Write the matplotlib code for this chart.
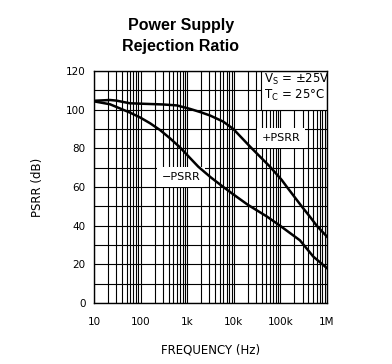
import matplotlib
matplotlib.use("Agg")
from matplotlib import pyplot as plt
from matplotlib.ticker import FixedLocator, NullFormatter
from matplotlib.patches import Rectangle
import numpy as np

# values (Hz, dB)
pos_freq = [10, 22, 30, 59, 130, 300, 600, 1150, 1884, 3080, 5960, 9770,
            22300, 59800, 107000, 136000, 286000, 431000, 601000, 1000000]
pos_psrr = [104.6, 105.0, 104.7, 103.3, 103.0, 102.7, 102.2, 100.4, 98.8, 97.0,
            93.8, 90.0, 80.9, 70.5, 63.6, 60.2, 50.0, 44.6, 40.0, 34.3]

neg_freq = [10, 22, 59, 97, 159, 260, 427, 700, 1150, 1730, 3200, 5960, 10000,
            20000, 50800, 98000, 263000, 508000, 1000000]
neg_psrr = [104.3, 102.8, 98.5, 96.0, 93.0, 89.5, 85.2, 80.5, 75.0, 70.5, 65.0,
            60.0, 56.0, 50.8, 44.8, 40.0, 32.4, 24.0, 18.0]

xticks = [10, 100, 1e3, 1e4, 1e5, 1e6]
xtick_labels = ['10', '100', '1k', '10k', '100k', '1M']
yticks = [0, 20, 40, 60, 80, 100, 120]

plt.rcParams['font.family'] = 'DejaVu Sans'

fig = plt.figure(figsize=(3.92, 3.64), dpi=100)
ax = fig.add_axes([94/392, 61/364, 233/392, 232/364])

ax.plot(pos_freq, pos_psrr, color='k', linewidth=1.8, zorder=6)
ax.plot(neg_freq, neg_psrr, color='k', linewidth=1.8, zorder=6)

ax.set_xscale('log')
ax.set_xlim(10, 1e6)
ax.set_ylim(0, 120)

ax.xaxis.set_major_locator(FixedLocator(xticks))
ax.xaxis.set_minor_locator(FixedLocator(
    [m * 10**d for d in range(1, 6) for m in range(2, 10)]))
ax.xaxis.set_minor_formatter(NullFormatter())
ax.set_xticklabels(xtick_labels)
ax.set_yticks(yticks)
ax.yaxis.set_minor_locator(FixedLocator(range(10, 120, 20)))

ax.grid(which='both', color='k', linewidth=0.8)
ax.tick_params(which='both', length=0, labelsize=7.5)
ax.tick_params(axis='x', pad=10)
ax.tick_params(axis='y', pad=6)
for s in ax.spines.values():
    s.set_linewidth(1.0)
    s.set_zorder(7)

ax.set_xlabel('FREQUENCY (Hz)', fontsize=8.5, labelpad=12)
ax.set_ylabel('PSRR (dB)', fontsize=8.5, labelpad=16)

# condition box in upper right corner
box = Rectangle((0.715, 100/120), 0.285, 20/120, transform=ax.transAxes,
                facecolor='white', edgecolor='k', linewidth=0.8, zorder=4)
ax.add_patch(box)
ax.text(0.73, 115.8, '$\\mathregular{V_S}$ = ±25V', ha='left', va='center',
        fontsize=8.5, zorder=5, transform=ax.get_yaxis_transform())
ax.text(0.73, 107.4, '$\\mathregular{T_C}$ = 25°C', ha='left', va='center',
        fontsize=8.5, zorder=5, transform=ax.get_yaxis_transform())

ax.text(1.03e5, 85.4, '+PSRR', ha='center', va='center', fontsize=8, zorder=5,
        bbox=dict(boxstyle='square,pad=0.45', facecolor='white', edgecolor='none'))
ax.text(736, 65.3, '\u2212PSRR', ha='center', va='center', fontsize=8, zorder=5,
        bbox=dict(boxstyle='square,pad=0.45', facecolor='white', edgecolor='none'))

fig.text(181/392, 1 - 30/364, 'Power Supply', ha='center', va='baseline',
         fontsize=11.5, fontweight='bold', family='Liberation Sans')
fig.text(181/392, 1 - 50.5/364, 'Rejection Ratio', ha='center', va='baseline',
         fontsize=11.5, fontweight='bold', family='Liberation Sans')

fig.savefig('out.png', dpi=100)
